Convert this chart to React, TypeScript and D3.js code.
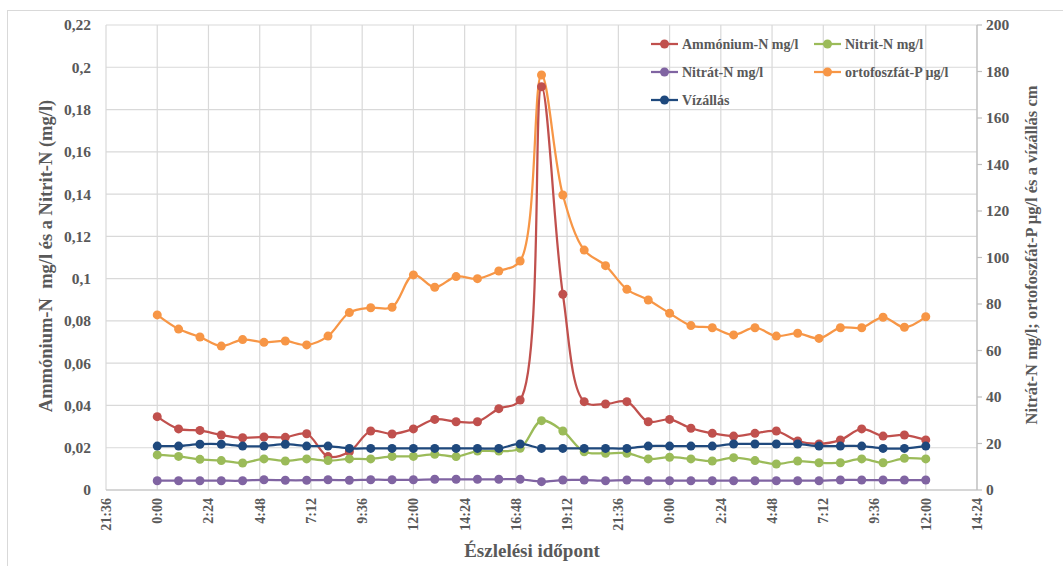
import React from "react";
import * as d3 from "d3";

// hours after first midnight (0:00) – hourly observations
const hours = [0, 1, 2, 3, 4, 5, 6, 7, 8, 9, 10, 11, 12, 13, 14, 15, 16, 17, 18, 19, 20, 21, 22, 23, 24, 25, 26, 27, 28, 29, 30, 31, 32, 33, 34, 35, 36];

const ammonium = [0.0347, 0.0289, 0.0282, 0.026, 0.0247, 0.0251, 0.0249, 0.0266, 0.0158, 0.0181, 0.0279, 0.0265, 0.0289, 0.0334, 0.0323, 0.0323, 0.0385, 0.0426, 0.1908, 0.0926, 0.0418, 0.0407, 0.0418, 0.0323, 0.0334, 0.0292, 0.0268, 0.0255, 0.0268, 0.0279, 0.0232, 0.0218, 0.0237, 0.0289, 0.0255, 0.026, 0.0237];
const nitrit = [0.0166, 0.0159, 0.0145, 0.0139, 0.0128, 0.0147, 0.0137, 0.0147, 0.0139, 0.0147, 0.0147, 0.0159, 0.0159, 0.0169, 0.0158, 0.0184, 0.0184, 0.0197, 0.0328, 0.0279, 0.0181, 0.0174, 0.0174, 0.0147, 0.0155, 0.0147, 0.0137, 0.0153, 0.0139, 0.0123, 0.0137, 0.0129, 0.0129, 0.0147, 0.0129, 0.015, 0.0147];
const nitrat = [4.0, 4.0, 4.0, 4.0, 4.0, 4.4, 4.2, 4.2, 4.4, 4.2, 4.4, 4.4, 4.4, 4.6, 4.6, 4.6, 4.6, 4.6, 3.6, 4.3, 4.3, 4.0, 4.3, 4.0, 4.0, 4.0, 4.0, 4.0, 4.0, 4.0, 4.0, 4.0, 4.3, 4.3, 4.3, 4.3, 4.3];
const ortofoszfat = [75.3, 69.2, 65.8, 61.9, 64.7, 63.5, 64.1, 62.4, 66.2, 76.3, 78.4, 78.6, 92.5, 87.2, 91.8, 90.9, 94.2, 98.5, 178.5, 126.9, 103.2, 96.5, 86.3, 81.7, 76.0, 70.7, 69.8, 66.7, 69.8, 66.2, 67.4, 65.2, 69.8, 69.8, 74.3, 70.0, 74.5];
const vizallas = [18.9, 18.9, 19.7, 19.7, 18.9, 18.9, 19.7, 18.9, 18.9, 17.9, 17.9, 17.9, 17.9, 17.9, 17.9, 17.9, 17.9, 19.8, 17.9, 17.9, 17.9, 17.9, 17.9, 18.9, 18.9, 18.9, 18.9, 19.8, 19.8, 19.8, 19.8, 18.9, 18.9, 18.9, 17.9, 17.9, 18.9];

const xTickHours = [-2.4, 0, 2.4, 4.8, 7.2, 9.6, 12, 14.4, 16.8, 19.2, 21.6, 24, 26.4, 28.8, 31.2, 33.6, 36, 38.4];
const xTickLabels = ["21:36", "0:00", "2:24", "4:48", "7:12", "9:36", "12:00", "14:24", "16:48", "19:12", "21:36", "0:00", "2:24", "4:48", "7:12", "9:36", "12:00", "14:24"];
const leftTicks = [0, 0.02, 0.04, 0.06, 0.08, 0.1, 0.12, 0.14, 0.16, 0.18, 0.2, 0.22];
const rightTicks = [0, 20, 40, 60, 80, 100, 120, 140, 160, 180, 200];

const seriesNames = ["Ammónium-N mg/l", "Nitrit-N mg/l", "Nitrát-N mg/l", "ortofoszfát-P µg/l", "Vízállás"];
const seriesColors = ["#C0504D", "#9BBB59", "#8064A2", "#F79646", "#1F497D"];

const W = 1063;
const H = 566;
const L = 106, R = 977, T = 25, B = 490;
const FONT = "'Liberation Serif', 'Times New Roman', serif";
const TXT = "#595959";

export default function App() {
  const x = d3.scaleLinear().domain([-2.4, 38.4]).range([L, R]);
  const yL = d3.scaleLinear().domain([0, 0.22]).range([B, T]);
  const yR = d3.scaleLinear().domain([0, 200]).range([B, T]);

  const series = [
    { name: seriesNames[0], color: seriesColors[0], values: ammonium, y: yL },
    { name: seriesNames[1], color: seriesColors[1], values: nitrit, y: yL },
    { name: seriesNames[2], color: seriesColors[2], values: nitrat, y: yR },
    { name: seriesNames[3], color: seriesColors[3], values: ortofoszfat, y: yR },
    { name: seriesNames[4], color: seriesColors[4], values: vizallas, y: yR },
  ];
  const drawOrder = [3, 0, 1, 2, 4];

  const fmt = (v: number) => (v === 0 ? "0" : String(+v.toFixed(2)).replace(".", ","));

  const legendPos = [
    { lx: 651, ly: 44 },
    { lx: 814, ly: 44 },
    { lx: 651, ly: 72 },
    { lx: 814, ly: 72 },
    { lx: 651, ly: 100 },
  ];

  return (
    <svg width={W} height={H} style={{ position: "absolute", left: 0, top: 0 }} fontFamily={FONT}>
      <rect x={0} y={0} width={W} height={H} fill="#fff" />
      <rect x={7.5} y={10.5} width={1070} height={570} fill="#fff" stroke="#d9d9d9" strokeWidth={1} />
      {/* grid */}
      {leftTicks.map((t) => (
        <line key={"hg" + t} x1={L} x2={R} y1={yL(t)} y2={yL(t)} stroke="#d9d9d9" strokeWidth={1.2} />
      ))}
      {xTickHours.map((h) => (
        <line key={"vg" + h} x1={x(h)} x2={x(h)} y1={T} y2={B} stroke="#d9d9d9" strokeWidth={1.2} />
      ))}
      {/* axes lines */}
      <line x1={L} x2={R} y1={B} y2={B} stroke="#bfbfbf" strokeWidth={1.2} />
      <line x1={R} x2={R} y1={T} y2={B} stroke="#bfbfbf" strokeWidth={1.2} />
      {rightTicks.map((t) => (
        <line key={"rt" + t} x1={R} x2={R + 5} y1={yR(t)} y2={yR(t)} stroke="#bfbfbf" strokeWidth={1.2} />
      ))}
      {/* left tick labels */}
      {leftTicks.map((t) => (
        <text key={"lt" + t} x={91} y={yL(t)} dy="0.35em" textAnchor="end" fontSize={15.5} fontWeight="bold" fill={TXT}>
          {fmt(t)}
        </text>
      ))}
      {/* right tick labels */}
      {rightTicks.map((t) => (
        <text key={"rl" + t} x={986} y={yR(t)} dy="0.35em" textAnchor="start" fontSize={15.5} fontWeight="bold" fill={TXT}>
          {t}
        </text>
      ))}
      {/* x tick labels */}
      {xTickHours.map((h, i) => (
        <text
          key={"xl" + i}
          transform={`translate(${x(h)},${498}) rotate(-90)`}
          dy="0.35em"
          textAnchor="end"
          fontSize={14}
          fontWeight="bold"
          fill={TXT}
        >
          {xTickLabels[i]}
        </text>
      ))}
      {/* axis titles */}
      <text transform={`translate(46,${256}) rotate(-90)`} textAnchor="middle" dy="0.35em" fontSize={18.5} fontWeight="bold" fill={TXT} style={{ whiteSpace: "pre" }}>
        {"Ammónium-N  mg/l és a Nitrit-N (mg/l)"}
      </text>
      <text transform={`translate(1031,${255}) rotate(-90)`} textAnchor="middle" dy="0.35em" fontSize={16.5} fontWeight="bold" fill={TXT}>
        Nitrát-N mg/l; ortofoszfát-P µg/l és a vízállás cm
      </text>
      <text x={532} y={557} textAnchor="middle" fontSize={19} fontWeight="bold" fill={TXT}>
        Észlelési időpont
      </text>
      {/* series */}
      {drawOrder.map((si) => {
        const s = series[si];
        const line = d3
          .line<number>()
          .x((_, i) => x(hours[i]))
          .y((v) => s.y(v))
          .curve(d3.curveCatmullRom.alpha(0.5));
        return (
          <g key={s.name}>
            <path d={line(s.values) || ""} fill="none" stroke={s.color} strokeWidth={2.25} />
            {s.values.map((v, i) => (
              <circle key={i} cx={x(hours[i])} cy={s.y(v)} r={4.5} fill={s.color} />
            ))}
          </g>
        );
      })}
      {/* legend */}
      {series.map((s, i) => {
        const p = legendPos[i];
        return (
          <g key={"lg" + i}>
            <line x1={p.lx} x2={p.lx + 27} y1={p.ly} y2={p.ly} stroke={s.color} strokeWidth={2.25} />
            <circle cx={p.lx + 13.5} cy={p.ly} r={4.5} fill={s.color} />
            <text x={p.lx + 31} y={p.ly} dy="0.35em" fontSize={14} fontWeight="bold" fill={TXT}>
              {s.name}
            </text>
          </g>
        );
      })}
    </svg>
  );
}
